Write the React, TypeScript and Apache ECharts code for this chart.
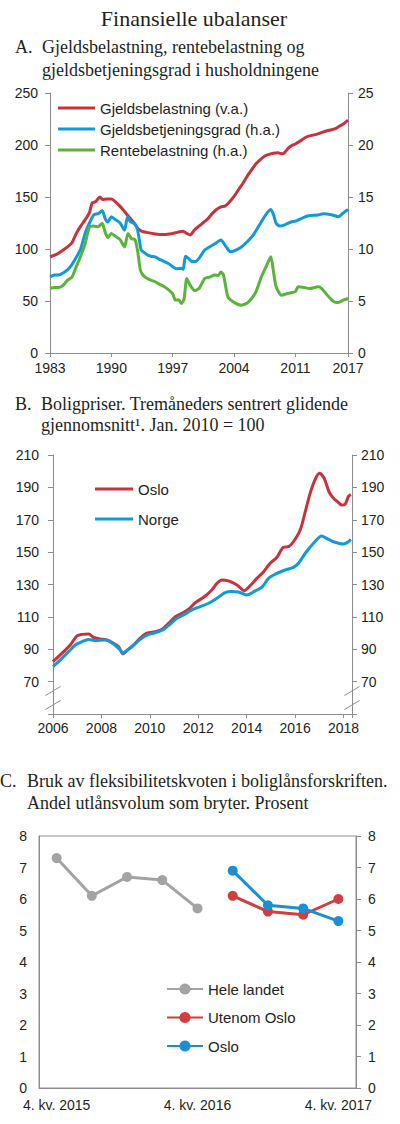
import React, { useEffect, useRef } from "react";
import * as echarts from "echarts";

const SERIF = '"Liberation Serif", "Times New Roman", serif';
const SANS = '"Liberation Sans", Arial, sans-serif';
const TXT = "#231f20";
const AXIS = "#8c8c8c";
const RED = "#c8323c";
const BLUE = "#109ad9";
const GREEN = "#5bb33c";
const GRAY = "#a3a3a3";
const RED_C = "#d23d3f";
const BLUE_C = "#1a8fd2";

// ---------- Panel A (year, value) ----------
const A_START = 1983;
const A_END = 2017;
const gjeldsbelastning: [number, number][] = [
  [1983, 92.5], [1983.5, 94], [1984, 96], [1984.5, 99], [1985, 102], [1985.5, 106], [1986, 115], [1986.5, 122],
  [1987, 128], [1987.5, 135], [1987.8, 144], [1988.2, 145.5], [1988.7, 150], [1989, 147.5], [1989.5, 148], [1990, 148],
  [1990.5, 145], [1991, 141], [1991.5, 136], [1992, 131], [1992.5, 126], [1993, 120], [1993.5, 117], [1994, 116],
  [1995, 114.5], [1996, 114], [1997, 115], [1997.5, 116], [1998.2, 117], [1998.6, 115], [1999, 113.5], [1999.5, 118.5],
  [2000, 122], [2000.5, 125.5], [2001, 129], [2001.5, 134], [2002, 138], [2002.5, 140.5], [2003, 141.5], [2003.5, 145.5],
  [2004, 150.5], [2004.5, 157], [2005, 163], [2005.5, 170], [2006, 176], [2006.5, 182], [2007, 186], [2007.5, 189.5],
  [2008, 191], [2008.5, 192], [2009, 192.5], [2009.5, 191.5], [2009.8, 193], [2010.2, 197], [2010.6, 199.5], [2011, 201],
  [2011.5, 203.5], [2012, 206.5], [2012.5, 208.5], [2013, 209.5], [2013.5, 210.5], [2014, 212], [2014.5, 213.5],
  [2015, 214.5], [2015.5, 215.5], [2016, 218], [2016.5, 220.5], [2017, 224],
];
const gjeldsbetjeningsgrad: [number, number][] = [
  [1983, 7.3], [1983.5, 7.5], [1984, 7.5], [1984.5, 7.7], [1985, 8.0], [1985.5, 8.5], [1986, 9.2], [1986.5, 10.0],
  [1987, 11.5], [1987.5, 12.5], [1988, 13.3], [1988.5, 13.4], [1988.96, 13.7], [1989.3, 12.9], [1989.6, 12.6], [1990, 13.1],
  [1990.5, 12.8], [1991, 12.5], [1991.5, 11.8], [1991.85, 13.1], [1992.2, 12.6], [1992.7, 12.4], [1993, 11.8], [1993.4, 9.9],
  [1993.7, 9.7], [1994, 9.5], [1994.5, 9.3], [1995, 9.25], [1995.5, 9.0], [1996, 8.8], [1996.5, 8.6], [1997, 8.3],
  [1997.4, 8.1], [1998, 8.15], [1998.2, 8.05], [1998.45, 9.3], [1998.8, 9.1], [1999.2, 8.8], [1999.6, 8.8], [2000, 9.1],
  [2000.65, 9.9], [2001.2, 10.2], [2001.8, 10.5], [2002.5, 10.86], [2003.1, 10.2], [2003.6, 9.73], [2004.2, 9.9],
  [2004.85, 10.2], [2005.5, 10.7], [2006.2, 11.35], [2007.1, 12.6], [2007.7, 13.4], [2008.2, 13.8], [2008.5, 13.3],
  [2008.8, 12.47], [2009.2, 12.2], [2009.7, 12.3], [2010.5, 12.6], [2011.1, 12.7], [2011.7, 12.95], [2012.5, 13.2],
  [2013.6, 13.27], [2014.2, 13.4], [2015.1, 13.3], [2015.9, 13.1], [2016.5, 13.5], [2017, 13.8],
];
const rentebelastning: [number, number][] = [
  [1983, 6.2], [1983.5, 6.3], [1984, 6.3], [1984.5, 6.5], [1985, 7.0], [1985.5, 7.3], [1986, 8.3], [1986.5, 9.3],
  [1987, 10.5], [1987.5, 12.1], [1988, 12.2], [1988.5, 12.15], [1988.96, 12.47], [1989.3, 11.6], [1989.6, 11.1], [1990, 11.5],
  [1990.5, 11.2], [1991, 10.9], [1991.5, 10.2], [1991.9, 11.5], [1992.3, 11.0], [1992.7, 10.9], [1993, 9.8], [1993.3, 8.0],
  [1993.6, 7.5], [1994, 7.2], [1994.5, 7.0], [1995, 6.85], [1995.5, 6.6], [1996, 6.4], [1996.5, 6.1], [1997, 5.7],
  [1997.3, 5.1], [1997.7, 5.1], [1998, 4.75], [1998.3, 5.2], [1998.6, 7.17], [1999, 6.5], [1999.5, 6.0], [2000, 6.2],
  [2000.65, 7.17], [2001.2, 7.3], [2001.8, 7.5], [2002.2, 7.45], [2002.5, 7.8], [2002.8, 7.5], [2003.3, 5.4], [2004.1, 4.82],
  [2004.85, 4.6], [2005.5, 4.8], [2006, 5.24], [2006.5, 5.9], [2007.1, 7.3], [2007.6, 8.2], [2008.2, 9.25], [2008.5, 7.8],
  [2008.8, 6.36], [2009.4, 5.56], [2010, 5.7], [2010.5, 5.8], [2011, 5.9], [2011.3, 6.36], [2012, 6.3], [2012.6, 6.2],
  [2013.6, 6.36], [2014, 6.2], [2014.5, 5.7], [2015.1, 5.14], [2015.5, 4.9], [2015.9, 4.86], [2016.5, 5.1], [2017, 5.24],
];
const A_LEFT_TICKS = { min: 0, max: 250, interval: 50 };
const A_RIGHT_TICKS = { min: 0, max: 25, interval: 5 };
const A_X_INTERVAL = 7;

// ---------- Panel B (year, index) ----------
const B_X_MIN = 2006;
const B_X_MAX = 2018.35;
const B_X_INTERVAL = 2;
const B_Y_MIN = 50;
const B_Y_MAX = 210;
const B_Y_INTERVAL = 20;
const oslo: [number, number][] = [
  [2006.0, 82.3], [2006.44, 88.5], [2006.71, 92.6], [2006.99, 98.2], [2007.2, 99.2], [2007.47, 99.4], [2007.68, 97.4],
  [2007.95, 96.4], [2008.23, 95.7], [2008.5, 93.7], [2008.71, 91.6], [2008.89, 87.1], [2009.05, 89.1], [2009.33, 92.6],
  [2009.6, 96.8], [2009.88, 99.9], [2010.22, 100.9], [2010.5, 102.3], [2010.77, 106], [2011.05, 110.1], [2011.33, 112.2],
  [2011.6, 114.7], [2011.88, 118.8], [2012.22, 122.1], [2012.56, 126.6], [2012.77, 130.7], [2012.98, 132.8],
  [2013.25, 132.2], [2013.6, 129.7], [2013.9, 126.2], [2014.08, 128.3], [2014.42, 133.8], [2014.7, 137.9],
  [2014.97, 143.1], [2015.25, 146.8], [2015.52, 153], [2015.73, 153.4], [2015.93, 156.4], [2016.21, 163.7],
  [2016.42, 175], [2016.62, 186.3], [2016.83, 195], [2017.0, 198.7], [2017.2, 195.6], [2017.4, 187.3], [2017.59, 183.2],
  [2017.75, 181.2], [2017.93, 179.1], [2018.07, 179.7], [2018.2, 184.3], [2018.3, 185.7],
];
const norge: [number, number][] = [
  [2006.0, 79.3], [2006.3, 83.4], [2006.64, 88.5], [2006.92, 92.6], [2007.2, 94.7], [2007.47, 96.1], [2007.75, 95.3],
  [2008.16, 95.7], [2008.5, 93.3], [2008.78, 89.5], [2008.89, 87.7], [2009.12, 90], [2009.6, 96.1], [2009.88, 98.8],
  [2010.22, 100.2], [2010.57, 102.3], [2010.84, 105.6], [2011.12, 109.1], [2011.39, 111.2], [2011.74, 114.3],
  [2012.08, 116.3], [2012.43, 118.4], [2012.77, 121.5], [2013.11, 125], [2013.39, 125.6], [2013.66, 125.4],
  [2014.0, 123.5], [2014.3, 125.6], [2014.65, 128.7], [2014.9, 133.8], [2015.25, 136.9], [2015.6, 139],
  [2015.93, 140.6], [2016.14, 143.1], [2016.42, 149.3], [2016.76, 155.5], [2017.1, 160], [2017.3, 158.5],
  [2017.59, 156.4], [2018.0, 155], [2018.2, 156.4], [2018.3, 157.9],
];

// ---------- Panel C ----------
const quarters = [
  "4. kv. 2015", "1. kv. 2016", "2. kv. 2016", "3. kv. 2016", "4. kv. 2016",
  "1. kv. 2017", "2. kv. 2017", "3. kv. 2017", "4. kv. 2017",
];
const heleLandet = [7.3, 6.1, 6.7, 6.6, 5.7, null, null, null, null];
const utenomOslo = [null, null, null, null, null, 6.1, 5.6, 5.5, 6.0];
const osloC = [null, null, null, null, null, 6.9, 5.8, 5.7, 5.3];
const C_Y = { min: 0, max: 8, interval: 1 };

// ---------- helpers ----------
function serif(text: string, x: number, baseline: number, size = 18, align = "left") {
  return {
    type: "text",
    x,
    y: baseline - 0.34 * size,
    silent: true,
    style: { text, fill: TXT, fontSize: size, fontFamily: SERIF, align, verticalAlign: "middle" },
  };
}

const labelStyle = { color: TXT, fontSize: 14, fontFamily: SANS };
const axisLine = { show: true, onZero: false, lineStyle: { color: AXIS, width: 1 } };
const legendText = { color: TXT, fontSize: 15, fontFamily: SANS };

function slash(cx: number, cy: number) {
  return {
    type: "line",
    silent: true,
    shape: { x1: cx - 7.5, y1: cy + 4.5, x2: cx + 7.5, y2: cy - 4.5 },
    style: { stroke: AXIS, lineWidth: 1 },
  };
}

function Chart({ option, top, height }: { option: any; top: number; height: number }) {
  const ref = useRef<HTMLDivElement>(null);
  useEffect(() => {
    const chart = echarts.init(ref.current!, undefined, { renderer: "svg" });
    chart.setOption(option);
    return () => chart.dispose();
  }, []);
  return <div ref={ref} style={{ position: "absolute", left: 0, top, width: 400, height }} />;
}

// ---------- options ----------
const gA = { left: 50, top: 93, width: 298, height: 260 };
const optionA = {
  animation: false,
  graphic: [
    serif("Finansielle ubalanser", 194, 26, 22, "center"),
    serif("A.", 15, 53),
    serif("Gjeldsbelastning, rentebelastning og", 42, 53),
    serif("gjeldsbetjeningsgrad i husholdningene", 42, 76),
  ],
  grid: gA,
  legend: {
    orient: "vertical",
    left: 58,
    top: 100.5,
    padding: 0,
    icon: "rect",
    itemWidth: 37,
    itemHeight: 3,
    itemGap: 6,
    textStyle: legendText,
    data: ["Gjeldsbelastning (v.a.)", "Gjeldsbetjeningsgrad (h.a.)", "Rentebelastning (h.a.)"],
  },
  xAxis: {
    type: "value",
    min: 0,
    max: A_END - A_START,
    interval: A_X_INTERVAL,
    axisLine,
    axisTick: { show: true, length: 4, lineStyle: { color: AXIS } },
    splitLine: { show: false },
    axisLabel: { ...labelStyle, margin: 8, formatter: (v: number) => String(Math.round(v) + A_START) },
  },
  yAxis: [
    {
      type: "value", position: "left", ...A_LEFT_TICKS,
      axisLine, axisTick: { show: true, length: 5, lineStyle: { color: AXIS } },
      splitLine: { show: false }, axisLabel: { ...labelStyle, margin: 12 },
    },
    {
      type: "value", position: "right", ...A_RIGHT_TICKS,
      axisLine, axisTick: { show: true, length: 5, lineStyle: { color: AXIS } },
      splitLine: { show: false }, axisLabel: { ...labelStyle, margin: 10 },
    },
  ],
  series: [
    { name: "Gjeldsbelastning (v.a.)", data: gjeldsbelastning, color: RED, yAxisIndex: 0 },
    { name: "Gjeldsbetjeningsgrad (h.a.)", data: gjeldsbetjeningsgrad, color: BLUE, yAxisIndex: 1 },
    { name: "Rentebelastning (h.a.)", data: rentebelastning, color: GREEN, yAxisIndex: 1 },
  ].map((s) => ({
    type: "line",
    name: s.name,
    yAxisIndex: s.yAxisIndex,
    symbol: "none",
    smooth: 0.2,
    lineStyle: { color: s.color, width: 3 },
    itemStyle: { color: s.color },
    data: s.data.map(([yr, v]) => [yr - A_START, v]),
  })),
};

const gB = { left: 53, top: 70, width: 299, height: 259 };
const bBottom = gB.top + gB.height;
const bYAxis = (position: string, margin: number) => ({
  type: "value",
  position,
  min: 0,
  max: B_Y_MAX - B_Y_MIN,
  interval: B_Y_INTERVAL,
  axisLine,
  axisTick: { show: true, length: 5, lineStyle: { color: AXIS } },
  splitLine: { show: false },
  axisLabel: { ...labelStyle, margin, formatter: (v: number) => (v === 0 ? "" : String(v + B_Y_MIN)) },
});
const optionB = {
  animation: false,
  graphic: [
    serif("B.", 15, 25),
    serif("Boligpriser. Tremåneders sentrert glidende", 41, 25),
    serif("gjennomsnitt¹. Jan. 2010 = 100", 41, 46),
    // axis breaks
    { type: "rect", silent: true, shape: { x: gB.left - 3, y: bBottom - 22, width: 6, height: 13 }, style: { fill: "#fff" } },
    { type: "rect", silent: true, shape: { x: gB.left + gB.width - 3, y: bBottom - 22, width: 6, height: 13 }, style: { fill: "#fff" } },
    slash(gB.left, bBottom - 23),
    slash(gB.left, bBottom - 9),
    slash(gB.left + gB.width, bBottom - 23),
    slash(gB.left + gB.width, bBottom - 9),
  ],
  grid: gB,
  legend: {
    orient: "vertical",
    left: 95,
    top: 96.5,
    padding: 0,
    icon: "rect",
    itemWidth: 38,
    itemHeight: 3,
    itemGap: 15,
    textStyle: legendText,
    data: ["Oslo", "Norge"],
  },
  xAxis: {
    type: "value",
    min: B_X_MIN,
    max: B_X_MAX,
    interval: B_X_INTERVAL,
    axisLine,
    axisTick: { show: true, length: 4, lineStyle: { color: AXIS } },
    splitLine: { show: false },
    axisLabel: { ...labelStyle, margin: 7, formatter: (v: number) => (Number.isInteger(v) ? String(v) : "") },
  },
  yAxis: [bYAxis("left", 14), bYAxis("right", 9)],
  series: [
    { name: "Oslo", data: oslo, color: RED },
    { name: "Norge", data: norge, color: BLUE },
  ].map((s) => ({
    type: "line",
    name: s.name,
    symbol: "none",
    smooth: 0.3,
    lineStyle: { color: s.color, width: 3 },
    itemStyle: { color: s.color },
    data: s.data.map(([yr, v]) => [yr, v - B_Y_MIN]),
  })),
};

const gC = { left: 39, top: 91, width: 317, height: 252 };
const optionC = {
  animation: false,
  graphic: [
    serif("C.", 0, 42),
    serif("Bruk av fleksibilitetskvoten i boliglånsforskriften.", 27, 42),
    serif("Andel utlånsvolum som bryter. Prosent", 27, 64),
  ],
  grid: { ...gC, show: true, borderColor: AXIS, borderWidth: 1 },
  legend: {
    orient: "vertical",
    left: 166,
    top: 236.5,
    padding: 0,
    itemWidth: 36,
    itemHeight: 14,
    itemGap: 13.5,
    textStyle: legendText,
    data: ["Hele landet", "Utenom Oslo", "Oslo"],
  },
  xAxis: {
    type: "category",
    data: quarters,
    boundaryGap: true,
    axisLine,
    axisTick: { show: false },
    axisLabel: { ...labelStyle, margin: 10, interval: 3 },
  },
  yAxis: [
    {
      type: "value", position: "left", ...C_Y, axisLine, axisTick: { show: false },
      splitLine: { show: false }, axisLabel: { ...labelStyle, margin: 12 },
    },
    {
      type: "value", position: "right", ...C_Y, axisLine,
      axisTick: { show: true, length: 5, lineStyle: { color: AXIS } },
      splitLine: { show: false }, axisLabel: { ...labelStyle, margin: 12 },
    },
  ],
  series: [
    { name: "Hele landet", data: heleLandet, color: GRAY },
    { name: "Utenom Oslo", data: utenomOslo, color: RED_C },
    { name: "Oslo", data: osloC, color: BLUE_C },
  ].map((s) => ({
    type: "line",
    name: s.name,
    symbol: "circle",
    symbolSize: 10,
    showSymbol: true,
    lineStyle: { color: s.color, width: 3 },
    itemStyle: { color: s.color },
    data: s.data,
  })),
};

export default function App() {
  useEffect(() => {
    document.body.style.margin = "0";
  }, []);
  return (
    <div style={{ position: "relative", width: 400, height: 1124, background: "#fff" }}>
      <Chart option={optionA} top={0} height={385} />
      <Chart option={optionB} top={385} height={360} />
      <Chart option={optionC} top={745} height={379} />
    </div>
  );
}
